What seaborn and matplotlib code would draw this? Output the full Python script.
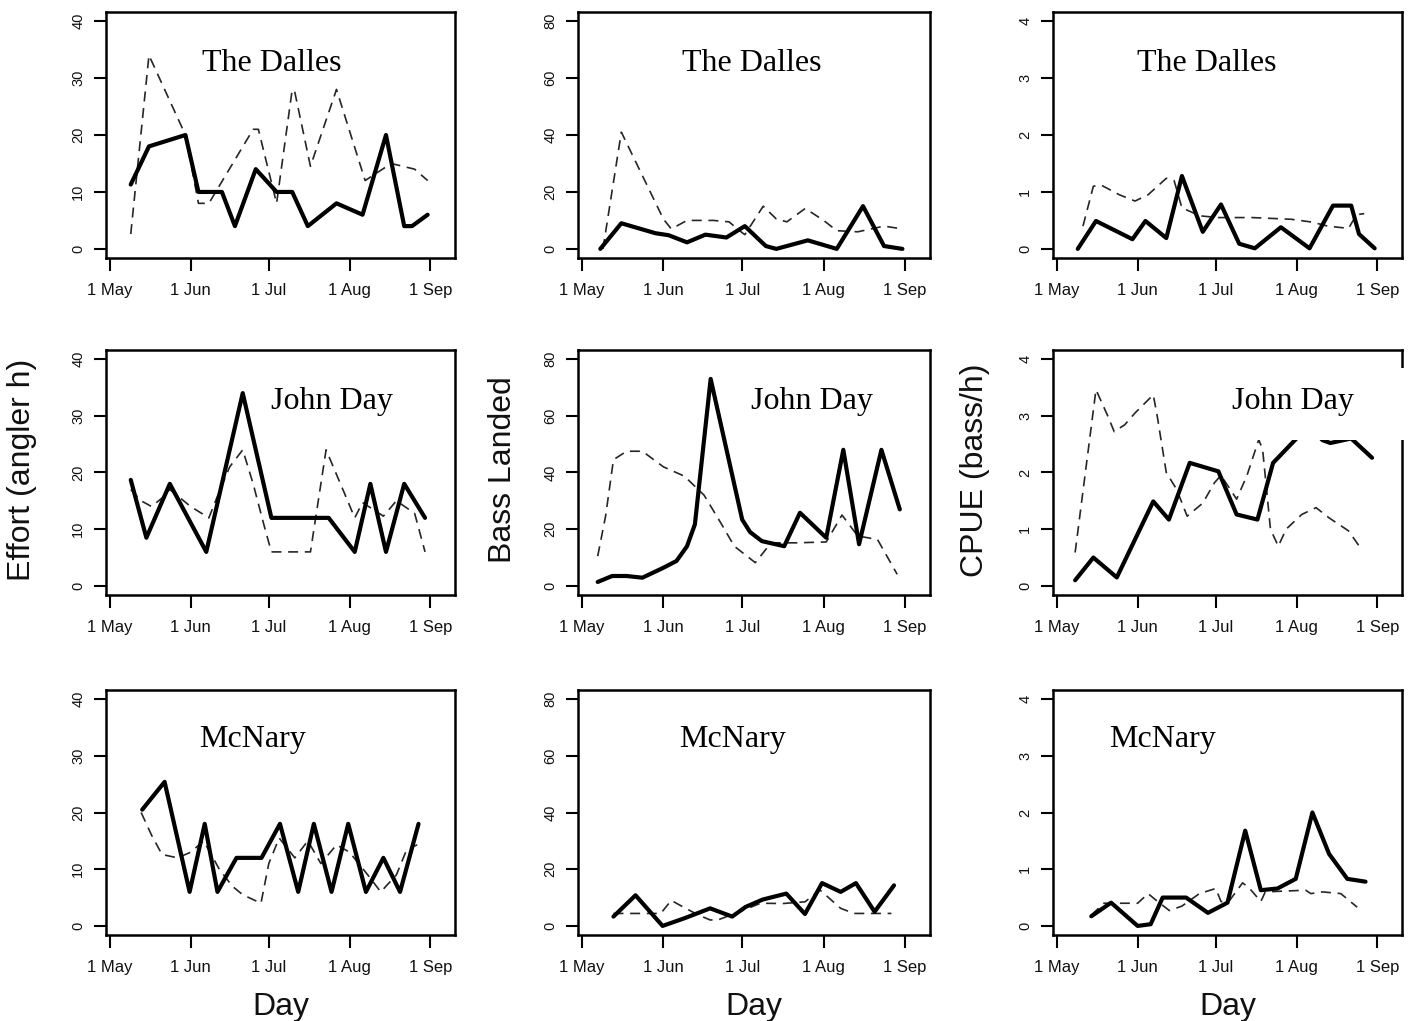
import numpy as np
import pandas as pd
import matplotlib
matplotlib.use("Agg")
import matplotlib.pyplot as plt
import matplotlib.dates as mdates
from matplotlib.patches import Rectangle
import seaborn as sns

# ---------------- data ----------------
season_start = "2009-05-01"
sites = ["The Dalles", "John Day", "McNary"]
measures = ["Effort (angler h)", "Bass Landed", "CPUE (bass/h)"]
month_ticks = ["2009-05-01", "2009-06-01", "2009-07-01", "2009-08-01", "2009-09-01"]
effort_ticks = [0, 10, 20, 30, 40]
bass_ticks = [0, 20, 40, 60, 80]
cpue_ticks = [0, 1, 2, 3, 4]

# The Dalles - effort
dalles_effort_solid_day = [8, 15, 29, 34, 43, 48, 56, 64, 70, 76, 87, 97, 106, 113, 116, 122]
dalles_effort_solid_val = [11.3, 18, 20, 10, 10, 4, 14, 10, 10, 4, 8, 6, 20, 4, 4, 6]
dalles_effort_dash_day = [8, 15, 29, 34, 38, 55, 57, 64, 70, 71, 77, 87, 98, 108, 117, 122]
dalles_effort_dash_val = [2.6, 34, 20, 8, 8, 21, 21, 8, 28, 27.5, 14.5, 28, 12, 15, 14, 12]
# The Dalles - bass landed
dalles_bass_solid_day = [7, 15, 28, 33, 40, 47, 55, 62, 70, 74, 86, 97, 107, 115, 122]
dalles_bass_solid_val = [0, 9, 5.5, 4.8, 2.3, 5, 4, 8, 1, 0, 3, 0, 15, 1, 0]
dalles_bass_dash_day = [8, 15, 31, 34, 40, 50, 56, 60, 62, 69, 74, 78, 85, 92, 97, 105, 115, 122]
dalles_bass_dash_val = [0, 41, 10.5, 7, 10, 10, 9.5, 6.4, 5, 15, 10.5, 9.5, 14.2, 10, 6.4, 6, 8, 7]
# The Dalles - CPUE
dalles_cpue_solid_day = [8, 15, 29, 34, 42, 48, 56, 63, 70, 76, 86, 97, 106, 113, 116, 122]
dalles_cpue_solid_val = [0, 0.49, 0.17, 0.49, 0.19, 1.28, 0.3, 0.78, 0.09, 0.01, 0.38, 0.01, 0.76, 0.76, 0.26, 0.01]
dalles_cpue_dash_day = [10, 14, 17, 24, 30, 35, 42, 45, 48, 55, 62, 75, 90, 98, 104, 112, 115, 118]
dalles_cpue_dash_val = [0.4, 1.1, 1.12, 0.95, 0.84, 0.95, 1.24, 1.2, 0.72, 0.58, 0.55, 0.55, 0.52, 0.47, 0.4, 0.36, 0.6, 0.62]

# John Day - effort
jd_effort_solid_day = [8, 14, 23, 37, 51, 62, 84, 94, 100, 106, 113, 121]
jd_effort_solid_val = [18.7, 8.5, 18, 6, 34, 12, 12, 6, 18, 6, 18, 12]
jd_effort_dash_day = [8, 12, 16, 20, 23, 31, 38, 41, 46, 51, 55, 59, 62, 77, 83, 90, 94, 97, 105, 110, 117, 121]
jd_effort_dash_val = [17, 15, 14, 15.5, 17, 14, 12, 15.5, 21, 24, 18, 11, 6, 6, 24, 16.4, 12, 14.7, 12.3, 15, 12.8, 6]
# John Day - bass landed
jd_bass_solid_day = [6, 11.5, 17, 23, 31, 36, 40, 43, 49, 61, 64, 68.5, 77, 83, 93, 99.5, 105.5, 114, 121]
jd_bass_solid_val = [1.4, 3.5, 3.5, 2.9, 6.4, 8.8, 14, 21.7, 73, 23.4, 19, 15.8, 14, 25.8, 17, 48, 14.7, 48, 27]
jd_bass_dash_day = [6, 9, 12, 17, 23, 31, 39, 46.5, 53, 58, 66, 72, 81.5, 93, 99, 105, 112.5, 120]
jd_bass_dash_val = [10.5, 24.6, 44.5, 47.5, 47.5, 42, 38.7, 32, 22, 14, 8.2, 15.2, 15.2, 15.5, 25, 17.6, 16.4, 4.1]
# John Day - CPUE
jd_cpue_solid_day = [7, 14, 23, 37, 43, 51, 62, 69, 77, 83, 92, 96, 102, 105, 113, 121]
jd_cpue_solid_val = [0.1, 0.5, 0.15, 1.49, 1.17, 2.17, 2.02, 1.26, 1.17, 2.17, 2.6, 2.85, 2.57, 2.52, 2.6, 2.26]
jd_cpue_dash_day = [7, 15, 19.5, 22, 26, 30, 37, 38.5, 42, 46, 50, 56, 60.5, 63, 69, 73, 77.5, 79, 82, 85, 88, 94, 99.5, 104.5, 112, 117]
jd_cpue_dash_val = [0.59, 3.46, 3.0, 2.72, 2.84, 3.05, 3.37, 3.0, 2.0, 1.7, 1.23, 1.46, 1.82, 1.95, 1.53, 1.95, 2.58, 2.4, 1.0, 0.7, 1.0, 1.26, 1.38, 1.2, 0.97, 0.64]

# McNary - effort
mc_effort_solid_day = [12.4, 21, 30.6, 36.4, 41.3, 48.6, 58.2, 65.3, 72.3, 78.3, 85.1, 91.5, 98.3, 105, 111.4, 118.5]
mc_effort_solid_val = [20.5, 25.4, 6, 18, 6, 12, 12, 18, 6, 18, 6, 18, 6, 12, 6, 18]
mc_effort_dash_day = [12, 16, 20, 26, 31, 36, 42, 47, 51, 58, 61, 65, 71, 76, 81, 87, 92, 99, 104, 110, 114, 118]
mc_effort_dash_val = [20, 16, 12.6, 12, 13, 15, 10, 7, 5.5, 4, 11, 15.5, 12, 15, 11, 14.3, 13, 9, 6, 9, 13.5, 14.3]
# McNary - bass landed
mc_bass_solid_day = [12, 20.4, 30.7, 39, 48.8, 57.2, 62.3, 68.8, 77.8, 84.9, 91.4, 98.5, 104.3, 111.4, 118.8]
mc_bass_solid_val = [3.3, 10.8, 0, 2.7, 6.2, 3.3, 6.7, 9.3, 11.4, 4.2, 15.1, 12, 15.1, 5, 14.3]
mc_bass_dash_day = [12, 16.5, 30, 34, 38.5, 44, 48.8, 52, 60, 68, 76.5, 84.9, 90.7, 98.5, 103.6, 117.8]
mc_bass_dash_val = [4.4, 4.4, 4.4, 9, 6.7, 4, 2.1, 2.2, 5, 8, 7.9, 8.5, 12.6, 6.2, 4.4, 4.4]
# McNary - CPUE
mc_cpue_solid_day = [13.2, 20.8, 31, 36, 40.6, 49.6, 58, 65.5, 72.3, 78.3, 84.7, 91.7, 98.1, 104.5, 111.5, 118.5]
mc_cpue_solid_val = [0.17, 0.41, 0, 0.03, 0.5, 0.5, 0.23, 0.41, 1.68, 0.63, 0.66, 0.83, 2.0, 1.27, 0.83, 0.78]
mc_cpue_dash_day = [13.2, 18, 26, 31, 35, 38.7, 43.2, 48, 54.7, 61, 63, 66, 71.3, 74, 78.3, 80, 95.5, 97.5, 102, 109, 115.3]
mc_cpue_dash_val = [0.19, 0.4, 0.4, 0.4, 0.57, 0.43, 0.27, 0.35, 0.57, 0.66, 0.43, 0.43, 0.76, 0.66, 0.43, 0.6, 0.63, 0.57, 0.6, 0.57, 0.33]

panels = [
    [(dalles_effort_solid_day, dalles_effort_solid_val, dalles_effort_dash_day, dalles_effort_dash_val),
     (dalles_bass_solid_day, dalles_bass_solid_val, dalles_bass_dash_day, dalles_bass_dash_val),
     (dalles_cpue_solid_day, dalles_cpue_solid_val, dalles_cpue_dash_day, dalles_cpue_dash_val)],
    [(jd_effort_solid_day, jd_effort_solid_val, jd_effort_dash_day, jd_effort_dash_val),
     (jd_bass_solid_day, jd_bass_solid_val, jd_bass_dash_day, jd_bass_dash_val),
     (jd_cpue_solid_day, jd_cpue_solid_val, jd_cpue_dash_day, jd_cpue_dash_val)],
    [(mc_effort_solid_day, mc_effort_solid_val, mc_effort_dash_day, mc_effort_dash_val),
     (mc_bass_solid_day, mc_bass_solid_val, mc_bass_dash_day, mc_bass_dash_val),
     (mc_cpue_solid_day, mc_cpue_solid_val, mc_cpue_dash_day, mc_cpue_dash_val)],
]
col_ticks = [effort_ticks, bass_ticks, cpue_ticks]

# ---------------- style ----------------
sns.set_theme(style="ticks")
plt.rcParams['font.family'] = ['Liberation Sans', 'DejaVu Sans']
plt.rcParams['axes.edgecolor'] = 'black'
plt.rcParams['axes.linewidth'] = 1.8

W, H = 1410, 1021
fig = plt.figure(figsize=(W / 100, H / 100), dpi=100)
fig.patch.set_facecolor('white')

col_left = [106, 578, 1053]
col_right = [455, 930, 1402]
row_top = [12, 350, 690]
row_bottom = [258, 595, 935]

site_pos = [[(0.476, 0.79), (0.494, 0.79), (0.441, 0.79)],
            [(0.648, 0.79), (0.665, 0.79), (0.688, 0.79)],
            [(0.421, 0.80), (0.440, 0.80), (0.315, 0.80)]]

start = pd.Timestamp(season_start)
xmin = start + pd.Timedelta(days=-1.5)
xmax = start + pd.Timedelta(days=132.5)

for r in range(3):
    for c in range(3):
        sd, sv, dd, dv = panels[r][c]
        l, rr, t, b = col_left[c], col_right[c], row_top[r], row_bottom[r]
        ax = fig.add_axes([l / W, 1 - b / H, (rr - l) / W, (b - t) / H])
        df_s = pd.DataFrame({"date": start + pd.to_timedelta(sd, unit="D"), "value": sv})
        df_d = pd.DataFrame({"date": start + pd.to_timedelta(dd, unit="D"), "value": dv})
        sns.lineplot(data=df_d, x="date", y="value", ax=ax, color="#262626",
                     linewidth=1.2, linestyle=(0, (6, 4)), estimator=None, sort=False)
        sns.lineplot(data=df_s, x="date", y="value", ax=ax, color="black",
                     linewidth=3.0, estimator=None, sort=False)
        ticks = col_ticks[c]
        span = ticks[-1] - ticks[0]
        ax.set_ylim(ticks[0] - 0.04 * span, ticks[-1] + 0.04 * span)
        ax.set_yticks(ticks)
        ax.set_xlim(xmin, xmax)
        ax.set_xticks(pd.to_datetime(month_ticks))
        ax.xaxis.set_major_formatter(mdates.DateFormatter('%-d %b'))
        ax.set_xlabel("")
        ax.set_ylabel("")
        ax.tick_params(axis='both', direction='out', length=9, width=1.5, color='black')
        ax.tick_params(axis='x', labelsize=12, pad=9, labelcolor='#111111')
        ax.tick_params(axis='y', labelsize=10.5, pad=6, labelrotation=90, labelcolor='#111111')
        for lbl in ax.get_yticklabels():
            lbl.set_va('center')
        for sp in ax.spines.values():
            sp.set_linewidth(1.8)
            sp.set_color('black')
        ax.set_facecolor('white')
        px, py = site_pos[r][c]
        if (r, c) == (1, 2):
            fig.add_artist(Rectangle((1225 / W, 1 - 440 / H), 185 / W, 72 / H,
                                     transform=fig.transFigure, facecolor='white',
                                     edgecolor='none', zorder=5))
            fx = (l + px * (rr - l)) / W
            fy = 1 - (b - py * (b - t)) / H
            fig.text(fx, fy, sites[r], ha='center', va='center',
                     family='Liberation Serif', fontsize=23, color='black', zorder=6)
        else:
            ax.text(px, py, sites[r], transform=ax.transAxes, ha='center', va='center',
                    family='Liberation Serif', fontsize=23, color='black')

# y labels (middle row) and x labels (bottom row)
ylabel_x = [22, 503, 975]
for c in range(3):
    fig.text(ylabel_x[c] / W, 1 - 470 / H, measures[c], rotation=90,
             ha='center', va='center', fontsize=23, color='#111111')
    cx = (col_left[c] + col_right[c]) / 2
    fig.text(cx / W, 1 - 1015 / H, "Day", ha='center', va='baseline',
             fontsize=23, color='#111111')

fig.savefig("out.png", dpi=100)
